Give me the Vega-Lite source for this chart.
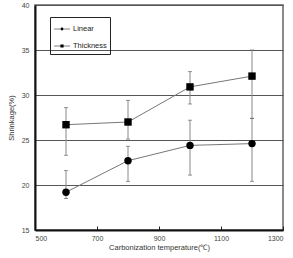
{
  "$schema": "https://vega.github.io/schema/vega-lite/v6.json",
  "width": 248,
  "height": 225,
  "autosize": "none",
  "padding": {"left": 35, "top": 5, "right": 10, "bottom": 28},
  "background": "white",
  "config": {
    "view": {"stroke": "#666", "strokeWidth": 1.5},
    "font": "Liberation Sans"
  },
  "data": {
    "values": [
      {"temp": 600, "series": "Linear", "value": 19.2, "lo": 18.5, "hi": 21.6},
      {"temp": 800, "series": "Linear", "value": 22.7, "lo": 20.4, "hi": 24.3},
      {"temp": 1000, "series": "Linear", "value": 24.4, "lo": 21.1, "hi": 27.2},
      {"temp": 1200, "series": "Linear", "value": 24.6, "lo": 20.4, "hi": 27.4},
      {"temp": 600, "series": "Thickness", "value": 26.7, "lo": 23.3, "hi": 28.6},
      {"temp": 800, "series": "Thickness", "value": 27.0, "lo": 25.1, "hi": 29.4},
      {"temp": 1000, "series": "Thickness", "value": 30.9, "lo": 29.0, "hi": 32.6},
      {"temp": 1200, "series": "Thickness", "value": 32.1, "lo": 27.4, "hi": 35.0}
    ]
  },
  "encoding": {
    "x": {
      "field": "temp", "type": "quantitative",
      "scale": {"domain": [500, 1300], "nice": false},
      "axis": {
        "values": [500, 700, 900, 1100, 1300], "format": "d",
        "title": "Carbonization  temperature(℃)",
        "titleFontSize": 7.5, "titleFontWeight": "normal", "titleColor": "#333", "titlePadding": 2,
        "labelFontSize": 7, "labelColor": "#444", "labelPadding": 8,
        "tickSize": -4, "tickColor": "#222",
        "domainColor": "#111", "domainWidth": 2, "grid": false
      }
    },
    "y": {
      "field": "value", "type": "quantitative",
      "scale": {"domain": [15, 40], "nice": false, "zero": false},
      "axis": {
        "values": [15, 20, 25, 30, 35, 40],
        "title": "Shrinkage(%)",
        "titleFontSize": 7.5, "titleFontWeight": "normal", "titleColor": "#333", "titlePadding": 6,
        "labelFontSize": 7, "labelColor": "#444", "labelPadding": 6,
        "ticks": false,
        "domainColor": "#111", "domainWidth": 2,
        "grid": true, "gridColor": "#555", "gridWidth": 1
      }
    }
  },
  "layer": [
    {
      "mark": {"type": "rule", "color": "#888", "strokeWidth": 1},
      "encoding": {
        "y": {"field": "lo", "type": "quantitative"},
        "y2": {"field": "hi"}
      }
    },
    {
      "mark": {"type": "tick", "orient": "horizontal", "size": 4, "color": "#666", "thickness": 1},
      "encoding": {"y": {"field": "lo", "type": "quantitative"}}
    },
    {
      "mark": {"type": "tick", "orient": "horizontal", "size": 4, "color": "#666", "thickness": 1},
      "encoding": {"y": {"field": "hi", "type": "quantitative"}}
    },
    {
      "mark": {"type": "line", "color": "#777", "strokeWidth": 1},
      "encoding": {
        "detail": {"field": "series"}
      }
    },
    {
      "mark": {"type": "point", "filled": true, "color": "black", "opacity": 1, "size": 55},
      "encoding": {
        "shape": {
          "field": "series", "type": "nominal",
          "scale": {"domain": ["Linear", "Thickness"], "range": ["circle", "square"]},
          "legend": null
        }
      }
    },
    {
      "mark": {"type": "point", "filled": true, "color": "black", "opacity": 0},
      "encoding": {
        "shape": {
          "field": "series", "type": "nominal",
          "scale": {"domain": ["Linear", "Thickness"], "range": [
            "M-1,-0.04H1V0.04H-1ZM0.18,0A0.18,0.18,0,1,1,-0.18,0A0.18,0.18,0,1,1,0.18,0Z",
            "M-1,-0.04H1V0.04H-1ZM-0.2,-0.2H0.2V0.2H-0.2Z"
          ]},
          "legend": {
            "title": null,
            "orient": "none", "legendX": 15, "legendY": 12,
            "strokeColor": "#222", "padding": 3,
            "symbolSize": 256, "symbolOpacity": 1,
            "symbolFillColor": "black",
            "labelFontSize": 7.5, "labelColor": "#222", "labelOffset": 2,
            "rowPadding": 3,
            "encode": {"symbols": {"update": {"fill": {"value": "black"}, "opacity": {"value": 1}, "fillOpacity": {"value": 1}}}}
          }
        }
      }
    }
  ],
  "resolve": {"scale": {"shape": "independent"}, "legend": {"shape": "independent"}}
}
